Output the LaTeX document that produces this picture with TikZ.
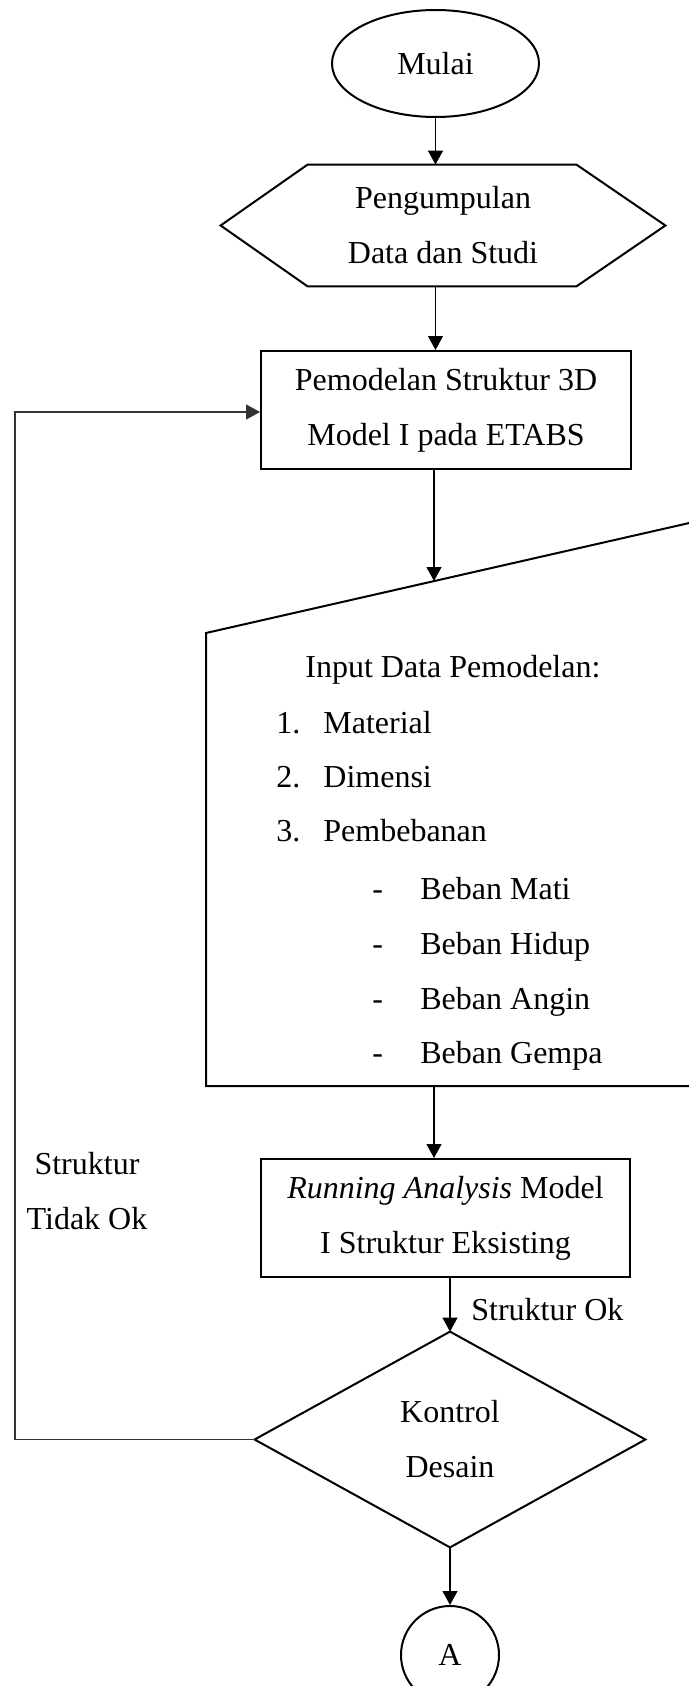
\documentclass[tikz,border=0pt]{standalone}
\usepackage{fontspec}
\setmainfont{Liberation Serif}
\usetikzlibrary{arrows.meta,shapes.geometric}
\begin{document}
\begin{tikzpicture}[x=0.5pt,y=-0.5pt,
  txt/.style={inner sep=0pt, font=\fontsize{16}{27.5}\selectfont},
  boxst/.style={draw, line width=1pt, inner sep=0pt, align=center, font=\fontsize{16}{27.5}\selectfont},
  plain/.style={inner sep=0pt, align=center, font=\fontsize{16}{27.5}\selectfont},
  outl/.style={line width=1pt, line join=miter},
  conn/.style={line width=0.6pt, -{Triangle[length=7pt,width=7.5pt]}},
  fb/.style={line width=0.65pt, draw=black!80, -{Triangle[length=7pt,width=7.5pt]}}]
\useasboundingbox (0,0) rectangle (689,1686);
\fill[white] (0,0) rectangle (689,1686);

% Start
\node[boxst, ellipse, minimum width=103.5pt, minimum height=53.5pt] (mulai) at (435.5,63.5) {Mulai};

% Hexagon (preparation)
\node[plain, minimum width=222pt, minimum height=60.5pt] (hex) at (443,225.5) {Pengumpulan\\Data dan Studi};
\draw[outl] (hex.west) -- ([xshift=43.5pt]hex.north west) -- ([xshift=-44.5pt]hex.north east)
  -- (hex.east) -- ([xshift=-44.5pt]hex.south east) -- ([xshift=43.5pt]hex.south west) -- cycle;

% Process 1
\node[boxst, rectangle, minimum width=185pt, minimum height=59pt] (r1) at (446,410) {Pemodelan Struktur 3D\\Model I pada ETABS};

% Manual input
\draw[outl] (206,633) -- (720,516) -- (720,1086) -- (206,1086) -- cycle;
\coordinate (inptop) at (434,581);
\coordinate (inpbot) at (434,1086);
\node[txt, anchor=base west] (l0) at (305,677) {Input Data Pemodelan:};
\node[txt, anchor=base west] (n1) at (276,733) {1.};
\node[txt, anchor=base west] (t1) at (323,733) {Material};
\node[txt, anchor=base west] (n2) at (276,787) {2.};
\node[txt, anchor=base west] (t2) at (323,787) {Dimensi};
\node[txt, anchor=base west] (n3) at (276,841) {3.};
\node[txt, anchor=base west] (t3) at (323,841) {Pembebanan};
\node[txt, anchor=base west] (d1) at (372,899) {-};
\node[txt, anchor=base west] (b1) at (420,899) {Beban Mati};
\node[txt, anchor=base west] (d2) at (372,954) {-};
\node[txt, anchor=base west] (b2) at (420,954) {Beban Hidup};
\node[txt, anchor=base west] (d3) at (372,1009) {-};
\node[txt, anchor=base west] (b3) at (420,1009) {Beban Angin};
\node[txt, anchor=base west] (d4) at (372,1063) {-};
\node[txt, anchor=base west] (b4) at (420,1063) {Beban Gempa};

% Process 2
\node[boxst, rectangle, minimum width=184.5pt, minimum height=59pt] (r2) at (445.5,1218) {\textit{Running Analysis} Model\\I Struktur Eksisting};

% Decision
\node[plain, minimum width=195pt, minimum height=107.5pt] (dia) at (450,1439.5) {Kontrol\\Desain};
\draw[outl] (dia.north) -- (dia.east) -- (dia.south) -- (dia.west) -- cycle;

% Connector A
\node[boxst, circle, minimum size=49pt] (A) at (450,1655) {A};

% Labels
\node[plain] (lok) at (471,1310) [anchor=west] {Struktur Ok};
\node[plain] (lnok) at (87,1191) {Struktur\\Tidak Ok};

% Connectors
\draw[conn] (mulai.south) -- (mulai.south |- hex.north);
\draw[conn] (hex.south -| mulai.south) -- (mulai.south |- r1.north);
\draw[conn] (r1.south -| inptop) -- (inptop);
\draw[conn] (inpbot) -- (inpbot |- r2.north);
\draw[conn] (r2.south -| dia.north) -- (dia.north);
\draw[conn] (dia.south) -- (A.north);
\coordinate (fbb) at (15,1439.5);
\coordinate (fbt) at (15,412);
\draw[fb] (dia.west) -- (fbb) -- (fbt) -- (fbt -| r1.west);
\end{tikzpicture}
\end{document}
